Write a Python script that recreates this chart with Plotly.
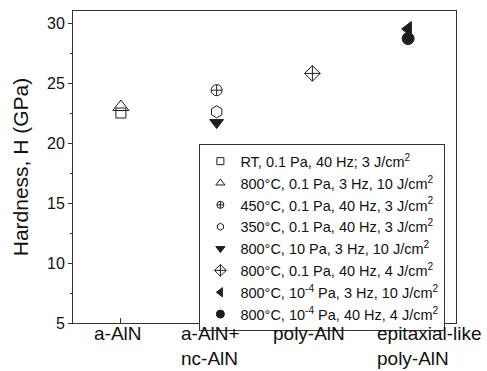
import plotly.graph_objects as go

categories = ["a-AlN", "a-AlN+<br>nc-AlN", "poly-AlN", "epitaxial-like<br>poly-AlN"]
cat_pos = [0, 1, 2, 3]
label_shift = [-3, -6, -3, 21]

series_names = [
    "RT, 0.1 Pa, 40 Hz; 3 J/cm<sup>2</sup>",
    "800°C, 0.1 Pa, 3 Hz, 10 J/cm<sup>2</sup>",
    "450°C, 0.1 Pa, 40 Hz, 3 J/cm<sup>2</sup>",
    "350°C, 0.1 Pa, 40 Hz, 3 J/cm<sup>2</sup>",
    "800°C, 10 Pa, 3 Hz, 10 J/cm<sup>2</sup>",
    "800°C, 0.1 Pa, 40 Hz, 4 J/cm<sup>2</sup>",
    "800°C, 10<sup>-4</sup> Pa, 3 Hz, 10 J/cm<sup>2</sup>",
    "800°C, 10<sup>-4</sup> Pa, 40 Hz, 4 J/cm<sup>2</sup>",
]
series_x = [0, 0, 1, 1, 1, 2, 3, 3]
series_h = [22.5, 23.0, 24.4, 22.6, 21.7, 25.8, 29.5, 28.7]

symbols = ["square-open", "triangle-up-open", "circle-cross-open", "hexagon-open",
           "triangle-down", "diamond-cross-open", "triangle-left", "circle"]
sizes = [10, 14, 11, 12, 12, 12, 13, 12]
legend_sizes = [7, 8, 7, 7, 8, 9, 8, 8]

ink = "#1e1e1e"
fig = go.Figure()
for name, xv, hv, sym, sz in zip(series_names, series_x, series_h, symbols, sizes):
    fig.add_trace(go.Scatter(
        x=[xv], y=[hv], mode="markers", name=name, showlegend=False,
        marker=dict(symbol=sym, size=sz, color=ink, line=dict(color=ink, width=1)),
    ))
for i, (name, sym, lsz) in enumerate(zip(series_names, symbols, legend_sizes)):
    fig.add_trace(go.Scatter(
        x=[None], y=[None], mode="markers", name=name,
        marker=dict(symbol=sym, size=lsz, color=ink, line=dict(color=ink, width=1)),
    ))

for xv, lab, sh in zip(cat_pos, categories, label_shift):
    fig.add_annotation(
        x=xv, y=0, xref="x", yref="paper", text=lab, showarrow=False,
        xanchor="center", yanchor="top", align="left", xshift=sh, yshift=1,
        borderpad=0, font=dict(size=19, color="#111"),
    )

fig.update_layout(
    width=487, height=371,
    margin=dict(l=73, r=31, t=11, b=48),
    paper_bgcolor="white", plot_bgcolor="white",
    font=dict(family="Arial, Liberation Sans, sans-serif", color="#111"),
    showlegend=True,
    legend=dict(
        x=0.33, y=0.573, xanchor="left", yanchor="top",
        bordercolor="#333", borderwidth=1, bgcolor="white",
        font=dict(size=14.5), tracegroupgap=0,
        itemwidth=30,
    ),
    xaxis=dict(
        range=[-0.5, 3.5], tickvals=cat_pos, showticklabels=False,
        ticks="inside", ticklen=5, tickcolor="#333",
        showline=True, linecolor="#333", linewidth=1, mirror=True,
        showgrid=False, zeroline=False, automargin=False,
    ),
    yaxis=dict(
        range=[5, 31], dtick=5, tick0=0,
        ticks="outside", ticklen=4, tickcolor="#333",
        minor=dict(dtick=2.5, ticks="outside", ticklen=2, tickcolor="#333"),
        showline=True, linecolor="#333", linewidth=1, mirror=True,
        showgrid=False, zeroline=False, tickfont=dict(size=16), automargin=False,
        title=dict(text="Hardness, H (GPa)", font=dict(size=21), standoff=12),
    ),
)
fig.write_html("out.html")
